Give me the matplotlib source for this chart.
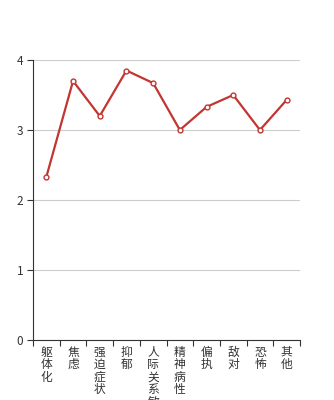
import matplotlib
matplotlib.use("Agg")
import matplotlib.pyplot as plt
import numpy as np

plt.rcParams['font.family'] = ['Noto Sans CJK SC', 'DejaVu Sans']

categories = ['躯体化', '焦虑', '强迫症状', '抑郁', '人际关系敏感', '精神病性', '偏执', '敌对', '恐怖', '其他']
values = [2.33, 3.70, 3.20, 3.85, 3.67, 3.00, 3.33, 3.50, 3.00, 3.43]
y_ticks = [0, 1, 2, 3, 4]

fig = plt.figure(figsize=(3.34, 4.0), dpi=100)
ax = fig.add_axes([33 / 334, 60 / 400, 267 / 334, 280 / 400])

x = np.arange(len(categories)) + 0.5
ax.plot(x, values, color='#c23531', linewidth=1.6, marker='o', markersize=3.5,
        markerfacecolor='white', markeredgecolor='#c23531', markeredgewidth=1, zorder=3)

ax.set_xlim(0, len(categories))
ax.set_ylim(0, 4)
ax.set_yticks(y_ticks)
ax.set_yticklabels([str(t) for t in y_ticks], fontsize=8.5, color='#333333')
ax.yaxis.grid(True, color='#cccccc', linewidth=0.8)
ax.set_axisbelow(True)

ax.set_xticks(np.arange(len(categories) + 1))
ax.set_xticklabels([])
ax.set_xticks(x, minor=True)
ax.set_xticklabels(['\n'.join(c) for c in categories], minor=True, fontsize=8.5,
                   color='#333333', va='top', linespacing=0.95)
ax.tick_params(axis='x', which='minor', length=0, pad=4)
ax.tick_params(axis='x', which='major', length=4, color='#333333', direction='out')
ax.tick_params(axis='y', length=4, color='#333333', pad=3)

for s in ['top', 'right']:
    ax.spines[s].set_visible(False)
ax.spines['left'].set_color('#333333')
ax.spines['bottom'].set_color('#333333')

fig.savefig('out.png', dpi=100)
